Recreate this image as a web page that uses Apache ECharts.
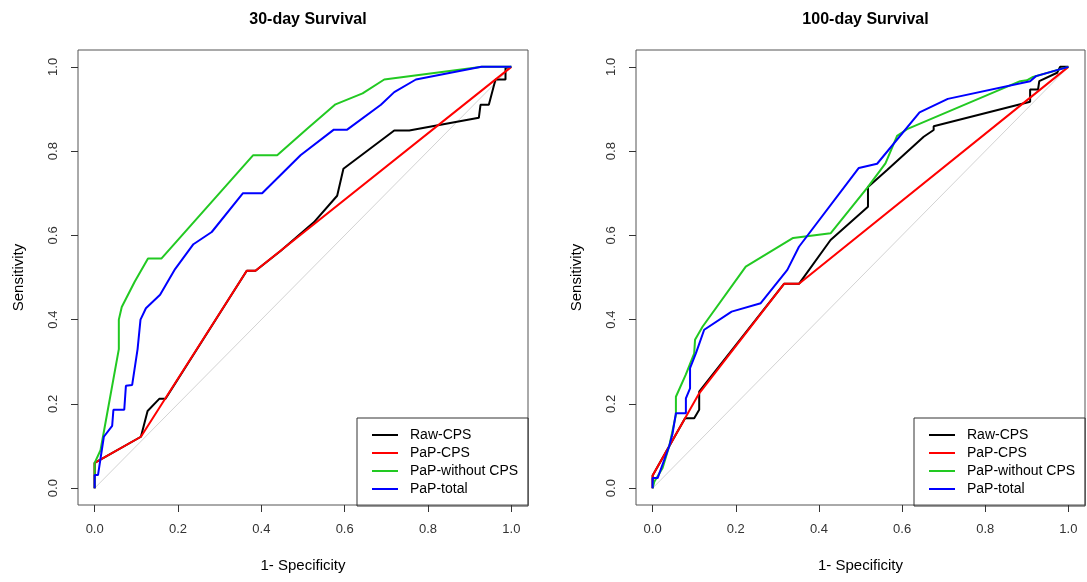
<!DOCTYPE html>
<html>
<head>
<meta charset="utf-8">
<title>ROC curves</title>
<script src="https://cdn.jsdelivr.net/npm/echarts@6.0.0/dist/echarts.min.js"></script>
<style>
  html, body { margin: 0; padding: 0; background: #fff; }
  #chart { width: 1087px; height: 582px; }
</style>
</head>
<body>
<div id="chart"></div>
<script>
// panel titles and legend names
var panelTitles = ['30-day Survival', '100-day Survival']
var curveNames = ['Raw-CPS', 'PaP-CPS', 'PaP-without CPS', 'PaP-total']
var curveColors = ['#000000', '#ff0000', '#22c922', '#0000ff']
var tickValues = [0, 0.2, 0.4, 0.6, 0.8, 1.0]
var chance = [[0, 0], [1, 1]]

// 30-day survival, [1 - specificity, sensitivity]
var raw30 = [[0, 0], [0, 0.06], [0.111, 0.122], [0.127, 0.183], [0.155, 0.212], [0.17, 0.212],
  [0.365, 0.516], [0.386, 0.516], [0.446, 0.563], [0.526, 0.631], [0.582, 0.694], [0.597, 0.758],
  [0.719, 0.849], [0.755, 0.849], [0.922, 0.879], [0.926, 0.91], [0.946, 0.91], [0.962, 0.97],
  [0.986, 0.97], [0.986, 0.997], [1, 1]]
var pap30 = [[0, 0], [0, 0.06], [0.111, 0.122], [0.365, 0.516], [0.386, 0.516], [1, 1]]
var noCps30 = [[0, 0], [0, 0.06], [0.014, 0.09], [0.058, 0.33], [0.058, 0.40], [0.065, 0.43],
  [0.096, 0.49], [0.128, 0.545], [0.16, 0.545], [0.38, 0.79], [0.438, 0.79], [0.51, 0.853],
  [0.578, 0.911], [0.643, 0.937], [0.695, 0.97], [0.93, 1], [1, 1]]
var total30 = [[0, 0], [0, 0.031], [0.008, 0.031], [0.022, 0.122], [0.042, 0.148], [0.045, 0.186],
  [0.071, 0.186], [0.075, 0.243], [0.09, 0.245], [0.103, 0.33], [0.11, 0.40], [0.123, 0.427],
  [0.157, 0.459], [0.193, 0.52], [0.237, 0.579], [0.281, 0.608], [0.356, 0.70], [0.402, 0.70],
  [0.494, 0.79], [0.574, 0.851], [0.606, 0.851], [0.687, 0.91], [0.719, 0.94], [0.771, 0.97],
  [0.928, 1], [1, 1]]

// 100-day survival
var raw100 = [[0, 0], [0, 0.03], [0.078, 0.166], [0.1, 0.166], [0.112, 0.186], [0.112, 0.229],
  [0.316, 0.485], [0.352, 0.485], [0.428, 0.589], [0.518, 0.668], [0.518, 0.715], [0.564, 0.755],
  [0.652, 0.834], [0.676, 0.85], [0.676, 0.859], [0.908, 0.917], [0.908, 0.946], [0.927, 0.946],
  [0.93, 0.966], [0.973, 0.986], [0.98, 1], [1, 1]]
var pap100 = [[0, 0], [0, 0.03], [0.112, 0.225], [0.316, 0.485], [0.352, 0.485], [1, 1]]
var noCps100 = [[0, 0], [0.004, 0.015], [0.024, 0.048], [0.04, 0.1], [0.056, 0.174], [0.056, 0.217],
  [0.08, 0.27], [0.1, 0.32], [0.102, 0.352], [0.12, 0.383], [0.224, 0.526], [0.338, 0.594],
  [0.428, 0.605], [0.518, 0.715], [0.56, 0.771], [0.588, 0.836], [0.612, 0.852], [0.884, 0.966],
  [0.9, 0.968], [0.915, 0.976], [1, 1]]
var total100 = [[0, 0], [0, 0.024], [0.012, 0.024], [0.04, 0.1], [0.048, 0.13], [0.056, 0.178],
  [0.08, 0.178], [0.08, 0.213], [0.09, 0.237], [0.09, 0.285], [0.104, 0.32], [0.124, 0.376],
  [0.19, 0.419], [0.26, 0.439], [0.324, 0.518], [0.352, 0.573], [0.496, 0.76], [0.54, 0.77],
  [0.642, 0.892], [0.71, 0.924], [0.908, 0.966], [0.922, 0.978], [1, 1]]

var panels = [[raw30, pap30, noCps30, total30], [raw100, pap100, noCps100, total100]]

var font = 'Liberation Sans, Arial, sans-serif'
var boxes = [{ left: 78, width: 450 }, { left: 636, width: 449 }]

var grids = [], xAxes = [], yAxes = [], series = [], titles = [], legends = []

boxes.forEach(function (b, gi) {
  grids.push({
    left: b.left, top: 50, width: b.width, height: 455,
    show: true, borderColor: '#555', borderWidth: 1, backgroundColor: 'transparent'
  })
  xAxes.push({
    type: 'value', gridIndex: gi, min: -0.04, max: 1.04, position: 'bottom',
    name: '1- Specificity', nameLocation: 'middle', nameGap: 53,
    nameTextStyle: { fontSize: 15, color: '#000', fontFamily: font },
    axisLine: { show: false, onZero: false },
    axisTick: { show: true, length: 7, customValues: tickValues, lineStyle: { color: '#333' } },
    axisLabel: {
      customValues: tickValues, margin: 18, fontSize: 13, color: '#333', fontFamily: font,
      formatter: function (v) { return v.toFixed(1) }
    },
    splitLine: { show: false }
  })
  yAxes.push({
    type: 'value', gridIndex: gi, min: -0.04, max: 1.04, position: 'left',
    name: 'Sensitivity', nameLocation: 'middle', nameGap: 52,
    nameTextStyle: { fontSize: 15, color: '#000', fontFamily: font },
    axisLine: { show: false, onZero: false },
    axisTick: { show: true, length: 7, customValues: tickValues, lineStyle: { color: '#333' } },
    axisLabel: {
      customValues: tickValues, margin: 18, rotate: 90, fontSize: 13, color: '#333', fontFamily: font,
      formatter: function (v) { return v.toFixed(1) }
    },
    splitLine: { show: false }
  })
  titles.push({
    text: panelTitles[gi], left: b.left + b.width / 2, textAlign: 'center', top: 7,
    textStyle: { fontSize: 16, fontWeight: 'bold', color: '#000', fontFamily: font }
  })
  legends.push({
    data: curveNames, orient: 'vertical', left: b.left + b.width - 171, top: 418,
    borderColor: '#333', borderWidth: 1, padding: [9, 10, 9, 15],
    icon: 'rect', itemWidth: 26, itemHeight: 2, itemGap: 2, selectedMode: false,
    textStyle: { fontSize: 14, lineHeight: 16, color: '#000', fontFamily: font, padding: [0, 0, 0, 7] }
  })

  series.push({
    type: 'line', name: 'chance', xAxisIndex: gi, yAxisIndex: gi, data: chance,
    symbol: 'none', silent: true, lineStyle: { color: '#d3d3d3', width: 1 }
  })
  panels[gi].forEach(function (pts, ci) {
    series.push({
      type: 'line', name: curveNames[ci], xAxisIndex: gi, yAxisIndex: gi, data: pts,
      symbol: 'none', color: curveColors[ci], lineStyle: { color: curveColors[ci], width: 2 }
    })
  })
})

var chart = echarts.init(document.getElementById('chart'))
chart.setOption({
  animation: false,
  backgroundColor: '#fff',
  title: titles,
  legend: legends,
  grid: grids,
  xAxis: xAxes,
  yAxis: yAxes,
  series: series
})
</script>
</body>
</html>
